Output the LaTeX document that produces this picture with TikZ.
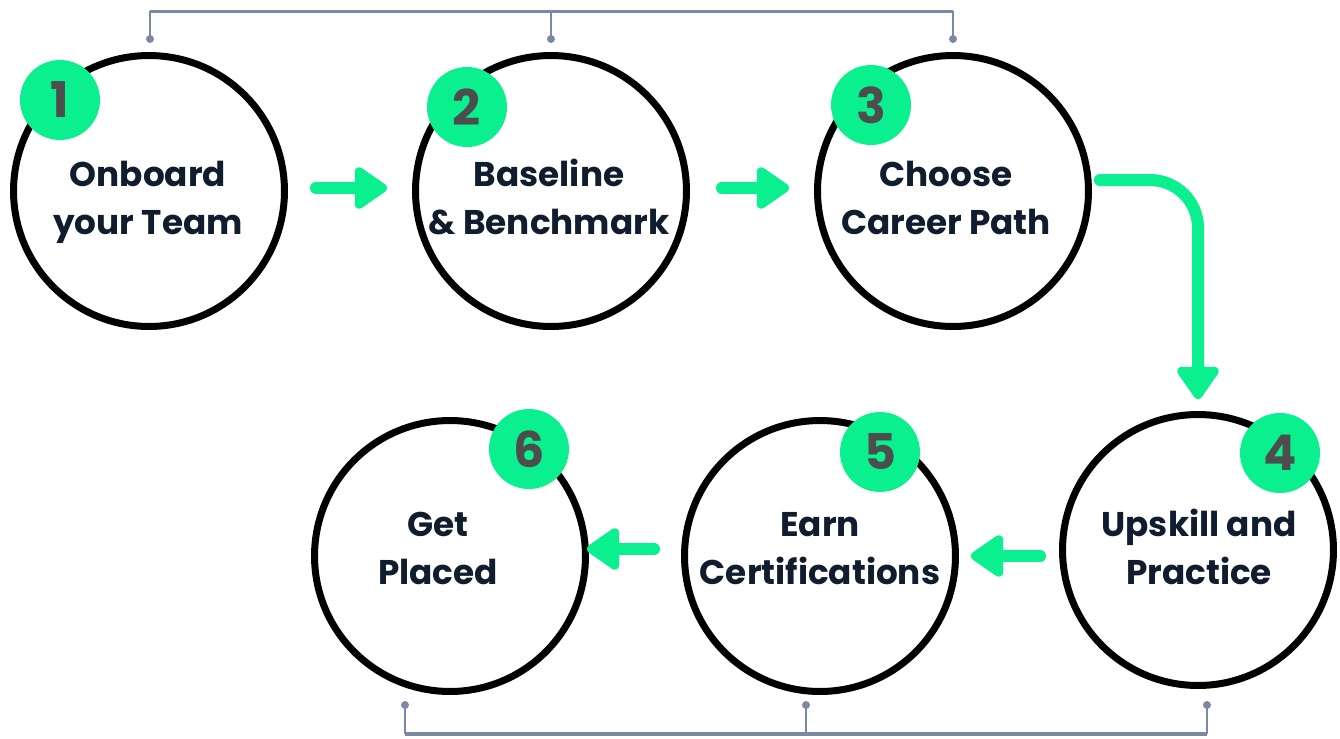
\documentclass[tikz,border=0pt]{standalone}
\usepackage{fontspec}
\setmainfont{Poppins}
\usetikzlibrary{arrows.meta,positioning}

\definecolor{stepgreen}{HTML}{0AF08F}
\definecolor{stepnavy}{HTML}{0F1D2E}
\definecolor{badgegray}{HTML}{4D4D4D}
\definecolor{bracketgray}{HTML}{7A8AA5}

% two centred lines with equal box height
\newcommand{\steplines}[2]{\strut#1\\#2\strut}

\tikzset{
  stepcircle/.style={circle, draw=black, line width=0.14cm, minimum size=5.42cm,
    inner sep=0pt},
  steptext/.style={align=center, inner sep=0pt, text=stepnavy,
    font=\bfseries\fontsize{19.5}{27.3}\selectfont},
  badge/.style={circle, fill=stepgreen, minimum size=1.6cm, inner sep=0pt,
    text=badgegray, font=\bfseries\fontsize{28}{30}\selectfont},
  flow/.style={draw=stepgreen, line width=0.24cm, line cap=round,
    -{Triangle[round, length=0.72cm, width=0.94cm]}},
  bracketline/.style={draw=bracketgray, line width=0.06cm},
  bracketdrop/.style={draw=bracketgray, line width=0.04cm},
  bracketdot/.style={fill=bracketgray},
}

\begin{document}
\begin{tikzpicture}[x=0.02cm, y=-0.02cm]
  \useasboundingbox (0,0) rectangle (1340,738);

  % step circles
  \node [stepcircle] (c1) at (149,191) {};
  \node [stepcircle] (c2) at (551,191) {};
  \node [stepcircle] (c3) at (953,191) {};
  \node [stepcircle] (c4) at (1198,550) {};
  \node [stepcircle] (c5) at (820,556) {};
  \node [stepcircle] (c6) at (450,556) {};

  % step texts
  \node [steptext] (t1) at ([shift={(-1,10)}]c1.center) {\steplines{Onboard}{your Team}};
  \node [steptext] (t2) at ([shift={(-2,10)}]c2.center) {\steplines{Baseline}{\& Benchmark}};
  \node [steptext] (t3) at ([shift={(-7,10)}]c3.center) {\steplines{Choose}{Career Path}};
  \node [steptext] (t4) at ([shift={(1,1)}]c4.center) {\steplines{Upskill and}{Practice}};
  \node [steptext] (t5) at ([shift={(0,-5)}]c5.center) {\steplines{Earn}{Certifications}};
  \node [steptext] (t6) at ([shift={(-12,-5)}]c6.center) {\steplines{Get}{Placed}};

  % number badges
  \node [badge] (b1) at ([shift={(-89,-91)}]c1.center) {1};
  \node [badge] (b2) at ([shift={(-84,-84)}]c2.center) {2};
  \node [badge] (b3) at ([shift={(-82,-86)}]c3.center) {3};
  \node [badge] (b4) at ([shift={(82,-97)}]c4.center) {4};
  \node [badge] (b5) at ([shift={(60,-104)}]c5.center) {5};
  \node [badge] (b6) at ([shift={(79,-107)}]c6.center) {6};

  % arrows
  \draw [flow] ([shift={(28,-3)}]c1.east) -- ([shift={(-25,-3)}]c2.west);
  \draw [flow] ([shift={(32,-3)}]c2.east) -- ([shift={(-25,-3)}]c3.west);
  \draw [flow, rounded corners=0.96cm] ([shift={(8,-11)}]c3.east) -| ([shift={(0,-12)}]c4.north);
  \draw [flow] ([shift={(-19,6)}]c4.west) -- ([shift={(12,0)}]c5.east);
  \draw [flow] ([shift={(-27,-7)}]c5.west) -- ([shift={(-2,-7)}]c6.east);

  % top bracket
  \coordinate (p1) at (150,39);
  \coordinate (p2) at (551,39);
  \coordinate (p3) at (953,39);
  \draw [bracketline] (150,11) -- (953,11);
  \foreach \p in {p1,p2,p3} {
    \draw [bracketdrop] (\p) -- ++(0,-28);
    \fill [bracketdot] (\p) circle [radius=0.08cm];
  }

  % bottom bracket
  \coordinate (q1) at (405,705);
  \coordinate (q2) at (806,705);
  \coordinate (q3) at (1207,705);
  \draw [bracketline, line width=0.08cm] (405,734) -- (1207,734);
  \foreach \p in {q1,q2,q3} {
    \draw [bracketdrop] (\p) -- ++(0,29);
    \fill [bracketdot] (\p) circle [radius=0.08cm];
  }
\end{tikzpicture}
\end{document}
